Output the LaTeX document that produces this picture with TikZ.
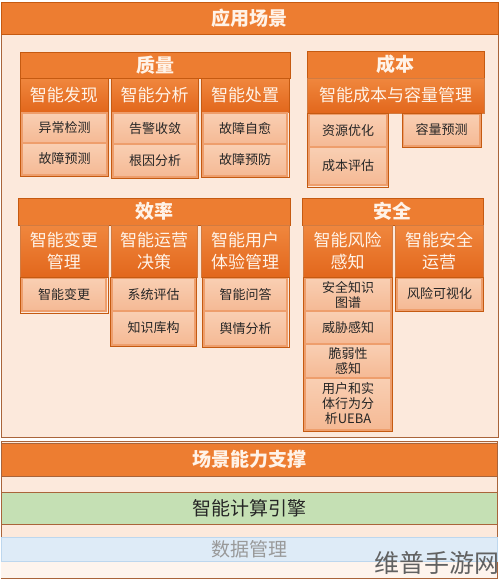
\documentclass[tikz,border=0pt]{standalone}
\usepackage{fontspec}
\newfontfamily\cjk{Noto Sans CJK SC}
\definecolor{org}{HTML}{ED7D31}
\definecolor{orgdk}{HTML}{C55A11}
\definecolor{panel}{HTML}{FCE9DC}
\definecolor{leaftop}{HTML}{F9CFB3}
\definecolor{leafbot}{HTML}{F5B994}
\definecolor{leafd}{HTML}{EE9E6C}
\definecolor{subtop}{HTML}{F0873E}
\definecolor{subbot}{HTML}{E2671C}
\definecolor{hdrtxt}{HTML}{FFF3E8}
\definecolor{greenbar}{HTML}{C5E0B4}
\definecolor{bluebar}{HTML}{DEEBF7}
\definecolor{blueline}{HTML}{BDD7EE}
\definecolor{brownline}{HTML}{A9643A}
\tikzset{
 hdr/.style={draw=orgdk, fill=org, text=hdrtxt, font=\cjk\bfseries\fontsize{19}{21}\selectfont, inner sep=0pt},
 sub/.style={draw=orgdk!80, top color=subtop, bottom color=subbot, text=hdrtxt, font=\cjk\fontsize{17}{22}\selectfont, align=center, inner sep=0pt},
 leaf/.style={draw=leafd, line width=1.2pt, top color=leaftop, bottom color=leafbot, text=black!85, font=\cjk\fontsize{13}{15}\selectfont, align=center, inner sep=0pt},
 colframe/.style={draw=orgdk, line width=1pt, inner sep=0pt},
 bar/.style={draw=brownline, inner sep=0pt},
}
\newcommand\bx[7]{\node[#1, minimum width={#4-#2}, minimum height={#5-#3}] (#6) at ({(#2+#4)/2},{(#3+#5)/2}) {#7};}
\begin{document}
\begin{tikzpicture}[x=1pt,y=-1pt]
\useasboundingbox (0,0) rectangle (500,579);
\fill[white] (0,0) rectangle (500,579);
% main panel
\bx{bar, fill=panel}{1}{34}{498}{437}{panel}{}
\bx{hdr}{1}{2}{498}{34}{top}{应用场景}
% 质量
\bx{hdr}{20}{52}{290}{78}{zl}{质量}
\bx{sub}{20}{78}{108}{112}{s11}{智能发现}
\bx{sub}{111}{78}{198}{112}{s12}{智能分析}
\bx{sub}{201}{78}{289}{112}{s13}{智能处置}
\bx{leaf}{22}{113}{107}{143}{l111}{异常检测}
\bx{leaf}{22}{143}{107}{175}{l112}{故障预测}
\bx{leaf}{113}{113}{197}{144}{l121}{告警收敛}
\bx{leaf}{113}{144}{197}{177}{l122}{根因分析}
\bx{leaf}{203}{113}{287}{144}{l131}{故障自愈}
\bx{leaf}{203}{144}{287}{176}{l132}{故障预防}
\bx{colframe}{20}{78}{108}{176}{c11}{}
\bx{colframe}{111}{78}{198}{178}{c12}{}
\bx{colframe}{201}{78}{289}{177}{c13}{}
% 成本
\bx{hdr}{307}{51}{484}{78}{cb}{成本}
\bx{sub}{307}{78}{484}{113}{s21}{智能成本与容量管理}
\bx{leaf}{309}{114}{387}{147}{l211}{资源优化}
\bx{leaf}{309}{147}{387}{185}{l212}{成本评估}
\bx{leaf}{403}{114}{480}{146}{l221}{容量预测}
\bx{colframe}{307}{113}{388}{187}{c21}{}
\bx{colframe}{402}{113}{481}{147}{c22}{}
% 效率
\bx{hdr}{18}{198}{290}{225}{xl}{效率}
\bx{sub}{20}{225}{108}{277}{s31}{智能变更\\管理}
\bx{sub}{111}{225}{197}{277}{s32}{智能运营\\决策}
\bx{sub}{201}{225}{289}{277}{s33}{智能用户\\体验管理}
\bx{leaf}{22}{278}{106}{311}{l311}{智能变更}
\bx{leaf}{112}{278}{195}{311}{l321}{系统评估}
\bx{leaf}{112}{311}{195}{345}{l322}{知识库构}
\bx{leaf}{204}{278}{287}{311}{l331}{智能问答}
\bx{leaf}{204}{311}{287}{346}{l332}{舆情分析}
\bx{colframe}{20}{277}{108}{313}{c31}{}
\bx{colframe}{110}{277}{196}{346}{c32}{}
\bx{colframe}{202}{277}{289}{347}{c33}{}
% 安全
\bx{hdr}{302}{198}{483}{225}{aq}{安全}
\bx{sub}{303}{225}{392}{277}{s41}{智能风险\\感知}
\bx{sub}{395}{225}{483}{277}{s42}{智能安全\\运营}
\bx{leaf}{305}{278}{391}{311}{l411}{安全知识\\图谱}
\bx{leaf}{305}{311}{391}{344}{l412}{威胁感知}
\bx{leaf}{305}{344}{391}{378}{l413}{脆弱性\\感知}
\bx{leaf}{305}{378}{391}{430}{l414}{用户和实\\体行为分\\析UEBA}
\bx{leaf}{397}{278}{482}{310}{l421}{风险可视化}
\bx{colframe}{303}{277}{392}{431}{c41}{}
\bx{colframe}{395}{277}{483}{311}{c42}{}
% bottom layers
\bx{bar, fill=panel}{1}{441}{497}{578}{base}{}
\bx{bar, fill=org, text=hdrtxt, font=\cjk\bfseries\fontsize{19}{21}\selectfont}{1}{443}{497}{476}{cjzc}{场景能力支撑}
\bx{bar, fill=greenbar, text=black!85, font=\cjk\fontsize{19}{21}\selectfont}{1}{492}{497}{524}{jsyq}{智能计算引擎}
\bx{draw=none, fill=white!50!panel, inner sep=0pt}{1}{561}{497}{578}{low}{}
\bx{draw=blueline, line width=1pt, fill=bluebar, text=black!40, font=\cjk\fontsize{19}{21}\selectfont, inner sep=0pt}{1}{537}{497}{561}{sjgl}{数据管理}
\node[font=\cjk\fontsize{25}{27}\selectfont, text=black!62, inner sep=0pt] (wm) at (437,563) {维普手游网};
\end{tikzpicture}
\end{document}
